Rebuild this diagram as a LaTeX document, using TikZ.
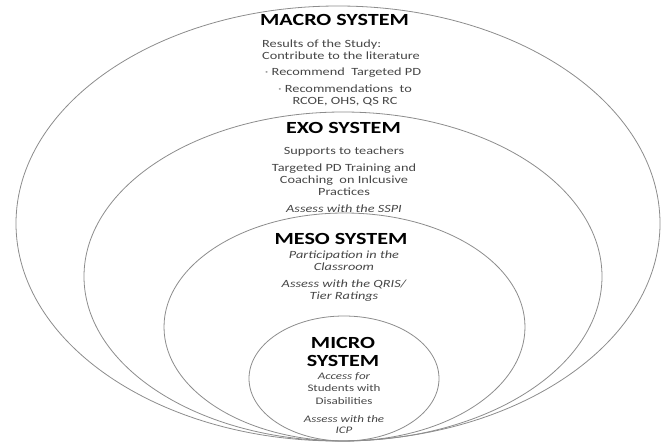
\documentclass[tikz,border=0pt]{standalone}
\usepackage{fontspec}
\setmainfont{Carlito}[FakeStretch=1.3]
\usepackage{tikz}
\usetikzlibrary{positioning}
\definecolor{ring-gray}{RGB}{140,140,140}
\definecolor{body-gray}{RGB}{70,70,70}

\begin{document}
\begin{tikzpicture}[
    x=1pt, y=-1pt,
    ring/.style={draw=ring-gray, line width=0.8pt},
    heading/.style={font=\fontsize{17}{18}\selectfont\bfseries, text=black, inner sep=0pt, anchor=base},
    body/.style={font=\fontsize{11}{12.6}\selectfont, text=body-gray, align=center, inner sep=0pt, anchor=base},
    smallbody/.style={body, font=\fontsize{10}{12.4}\selectfont}
]
\useasboundingbox (0,0) rectangle (662,444);

% Rings
\draw[ring] (338,223.5) ellipse [x radius=322, y radius=217.5];
\draw[ring] (343,276.5) ellipse [x radius=259, y radius=164.5];
\draw[ring] (344.5,327) ellipse [x radius=180.5, y radius=114];
\draw[ring] (344,378.5) ellipse [x radius=95, y radius=62.5];

% Macro system (multi-line nodes sit on their last baseline)
\node[heading] (macro) at (334.5,26) {MACRO SYSTEM};
\node[body, align=left] (results) at (341,60) {Results of the Study:\\Contribute to the literature};
\node[body] (recpd) at (343,76) {{\color{ring-gray}·} Recommend~ Targeted PD};
\node[body] (recs) at (345,105) {{\color{ring-gray}·} Recommendations~ to\\RCOE, OHS, QS RC};

% Exo system
\node[heading] (exo) at (343.5,134) {EXO SYSTEM};
\node[body] (supports) at (344,154) {Supports to teachers};
\node[body, font=\fontsize{11}{12}\selectfont] (training) at (344,195) {Targeted PD Training and\\Coaching~ on Inlcusive\\Practices};
\node[body, font=\fontsize{11}{12.6}\selectfont\itshape] (sspi) at (344,212) {Assess with the SSPI};

% Meso system
\node[heading] (meso) at (341,244) {MESO SYSTEM};
\node[body, font=\fontsize{11}{12}\selectfont\itshape] (partic) at (344,270) {Participation in the\\Classroom};
\node[body, font=\fontsize{11}{12}\selectfont\itshape] (qris) at (344,299) {Assess with the QRIS/\\Tier Ratings};

% Micro system
\node[heading] (micro) at (343,348) {MICRO};
\node[heading] (microsys) at (343,366) {SYSTEM};
\node[smallbody, font=\fontsize{10}{12.4}\selectfont\itshape] (access) at (344,379) {Access for};
\node[smallbody, font=\fontsize{10}{13}\selectfont] (students) at (344,404) {Students with\\Disabilities};
\node[smallbody, font=\fontsize{10}{11}\selectfont\itshape] (icp) at (344,433) {Assess with the\\ICP};

\end{tikzpicture}
\end{document}
